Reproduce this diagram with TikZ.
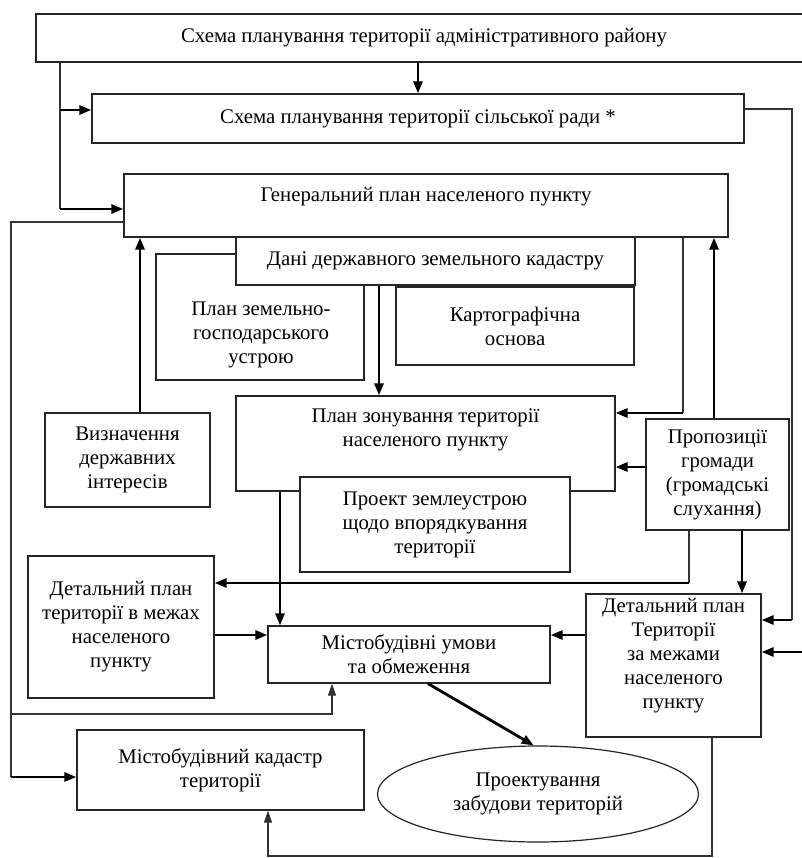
\documentclass[tikz,border=0pt]{standalone}
\usepackage{fontspec}
\setmainfont{Liberation Serif}
\usetikzlibrary{arrows.meta,shapes.geometric}

\tikzset{
  blok/.style={rectangle, draw=black!85, line width=1.2pt, fill=white, inner sep=0pt,
    align=center, font=\fontsize{20.8}{24}\selectfont},
  napys/.style={inner sep=0pt, align=center, font=\fontsize{20.8}{24}\selectfont},
  elips/.style={blok, ellipse},
  lin/.style={draw=black!80, line width=1.1pt},
  strilka/.style={draw=black, line width=2.8pt, -{Triangle[length=12pt,width=9pt]}},
  strilkatonka/.style={draw=black!80, line width=1.1pt, -{Triangle[length=12pt,width=8pt]}}
}

\begin{document}
\begin{tikzpicture}[x=1pt, y=-1pt]

        \useasboundingbox (0,0) rectangle (801,858);

        % Блоки
        \node[blok, minimum width=776pt, minimum height=48pt] (rajon) at (424,38) {Схема планування території адміністративного району};
        \node[blok, minimum width=652pt, minimum height=49pt] (silrada) at (418,118.5) {Схема планування території сільської ради *};
        \node[blok, minimum width=604pt, minimum height=63pt] (genplan) at (426,205.5) {};
        \node[napys] (genplan-t) at (426,197) {Генеральний план населеного пункту};
        \node[blok, minimum width=208pt, minimum height=126pt] (zemgosp) at (260,317) {};
        \node[napys] (zemgosp-t) at (261,335) {План земельно-\\господарського\\устрою};
        \node[blok, minimum width=399pt, minimum height=48pt] (kadastr) at (435.5,261) {Дані державного земельного кадастру};
        \node[blok, minimum width=238pt, minimum height=78pt] (kartosn) at (515,326) {Картографічна\\основа};
        \node[blok, minimum width=379pt, minimum height=95pt] (zonuvannja) at (425.5,443.5) {};
        \node[napys] (zonuvannja-t) at (425.5,430) {План зонування території\\населеного пункту};
        \node[blok, minimum width=270pt, minimum height=95pt] (zemleustrij) at (435,524.5) {Проект землеустрою\\щодо впорядкування\\території};
        \node[blok, minimum width=165pt, minimum height=94pt] (derzhint) at (127.5,460) {Визначення\\державних\\інтересів};
        \node[blok, minimum width=143pt, minimum height=111pt] (propozycii) at (717.5,474.5) {Пропозиції\\громади\\(громадські\\слухання)};
        \node[blok, minimum width=186pt, minimum height=142pt] (detplan) at (121,627) {Детальний план\\території в межах\\населеного\\пункту};
        \node[blok, minimum width=282pt, minimum height=57pt] (umovy) at (409,654.5) {Містобудівні умови\\та обмеження};
        \node[blok, minimum width=175pt, minimum height=143pt] (detplanza) at (673.5,665.5) {};
        \node[napys] (detplanza-t) at (673.5,656) {Детальний план\\Території\\за межами\\населеного\\пункту};
        \node[blok, minimum width=287pt, minimum height=80pt] (mistkadastr) at (220.5,770) {Містобудівний кадастр\\території};
        \node[elips, minimum width=321pt, minimum height=96pt] (proektuvannja) at (538,794) {Проектування\\забудови територій};

        % Допоміжні точки
        \coordinate (lz) at (60,62);
        \coordinate (lb) at (60,110);
        \coordinate (lc) at (60,209);
        \coordinate (pb) at (792,109);
        \coordinate (pm) at (792,620);
        \coordinate (pk) at (810,652);
        \coordinate (g1) at (11,222);
        \coordinate (g2) at (11,714);
        \coordinate (g3) at (11,777);
        \coordinate (g4) at (332,714);
        \coordinate (xi) at (140,0);
        \coordinate (xd) at (379,0);
        \coordinate (cg) at (683,413);
        \coordinate (jg) at (0,467);
        \coordinate (xj) at (714,0);
        \coordinate (xg) at (280,0);
        \coordinate (jk) at (689,583);
        \coordinate (xm) at (742,0);
        \coordinate (yl) at (0,635);
        \coordinate (lo) at (428,0);
        \coordinate (n1) at (712,856);
        \coordinate (n2) at (268,856);

        % Тонкі лінії
        \draw[lin] (lz) -- (lc);
        \draw[lin] (silrada.east |- pb) -- (pb) -- (pm);
        \draw[lin] (genplan.west |- g1) -- (g1) -- (g3);
        \draw[lin] (genplan.south -| cg) -- (cg);
        \draw[lin] (propozycii.south -| jk) -- (jk);
        \draw[strilkatonka] (g2) -- (g4) -- (umovy.south -| g4);
        \draw[strilkatonka] (detplanza.south -| n1) -- (n1) -- (n2) -- (mistkadastr.south -| n2);

        % Стрілки
        \draw[strilka] (silrada.north |- rajon.south) -- (silrada.north);
        \draw[strilka] (lb) -- (silrada.west |- lb);
        \draw[strilka] (lc) -- (genplan.west |- lc);
        \draw[strilka] (pm) -- (detplanza.east |- pm);
        \draw[strilka] (pk) -- (detplanza.east |- pk);
        \draw[strilka] (g3) -- (mistkadastr.west |- g3);
        \draw[strilka] (derzhint.north -| xi) -- (genplan.south -| xi);
        \draw[strilka] (kadastr.south -| xd) -- (zonuvannja.north -| xd);
        \draw[strilka] (cg) -- (zonuvannja.east |- cg);
        \draw[strilka] (propozycii.west |- jg) -- (zonuvannja.east |- jg);
        \draw[strilka] (propozycii.north -| xj) -- (genplan.south -| xj);
        \draw[strilka] (zonuvannja.south -| xg) -- (umovy.north -| xg);
        \draw[strilka] (jk) -- (detplan.east |- jk);
        \draw[strilka] (propozycii.south -| xm) -- (detplanza.north -| xm);
        \draw[strilka] (detplan.east |- yl) -- (umovy.west |- yl);
        \draw[strilka] (detplanza.west |- yl) -- (umovy.east |- yl);
        \draw[strilka] (umovy.south -| lo) -- (proektuvannja.95);

    \end{tikzpicture}
\end{document}
